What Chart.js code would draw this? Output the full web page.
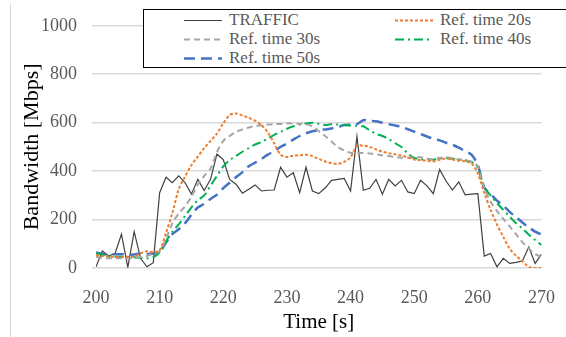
<!DOCTYPE html>
<html>
<head>
<meta charset="utf-8">
<script src="https://cdn.jsdelivr.net/npm/chart.js@4.4.1/dist/chart.umd.min.js"></script>
<style>
  html, body { margin: 0; padding: 0; background: #fff; overflow: hidden; }
  #wrap { position: relative; width: 566px; height: 337px; }
  #leftline { position: absolute; left: 10px; top: 3px; width: 1px; height: 334px; background: #d9d9d9; }
  #legend {
    position: absolute; left: 143px; top: 9px; width: 440px; height: 57px;
    border: 1.5px solid #000; background: #fff;
    font-family: "Liberation Serif", Tinos, "Times New Roman", "DejaVu Serif", serif; font-size: 17px; color: #595959;
  }
  .item { position: absolute; white-space: nowrap; line-height: 19px; }
  .item svg { position: absolute; left: -45px; top: 9px; }
</style>
</head>
<body>
<div id="wrap">
  <canvas id="myChart" width="566" height="337"></canvas>
  <div id="leftline"></div>
  <div id="legend"></div>
</div>
<script>
// data (1 s steps, 200..270)
var seconds = [];
for (var s = 200; s <= 270; s++) seconds.push(s);

var traffic = [5, 70, 50, 60, 140, 3, 150, 40, 5, 22,
  311, 375, 352, 380, 352, 305, 366, 320, 366, 470,
  448, 366, 346, 309, 325, 343, 318, 321, 322, 416,
  375, 393, 311, 416, 318, 307, 330, 362, 366, 370,
  318, 543, 321, 329, 366, 305, 366, 339, 362, 314,
  307, 362, 339, 307, 407, 359, 322, 356, 302, 305,
  307, 49, 60, 5, 40, 19, 23, 29, 87, 19, 57];

var ref20 = [53, 50, 48, 46, 46, 46, 48, 60, 69, 65,
  73, 145, 227, 325, 378, 425, 460, 495, 525, 555,
  597, 631, 638, 630, 620, 608, 590, 560, 515, 468,
  458, 464, 465, 468, 462, 450, 440, 433, 430, 438,
  457, 505, 505, 500, 490, 480, 474, 470, 464, 457,
  448, 445, 443, 440, 447, 452, 448, 443, 440, 432,
  390, 311, 240, 180, 128, 80, 50, 28, 5, 0, 0];

var ref30 = [45, 42, 40, 40, 40, 40, 42, 45, 50, 60,
  70, 120, 185, 225, 255, 295, 345, 380, 410, 478,
  525, 545, 562, 572, 580, 586, 589, 592, 594, 595,
  597, 597, 596, 594, 585, 565, 545, 522, 500, 485,
  476, 475, 475, 473, 470, 465, 462, 458, 455, 455,
  456, 457, 452, 448, 455, 457, 453, 448, 445, 438,
  420, 330, 275, 235, 203, 172, 140, 107, 80, 58, 45];

var ref40 = [61, 55, 48, 46, 46, 45, 44, 42, 40, 45,
  65, 110, 150, 180, 215, 250, 280, 300, 340, 380,
  420, 445, 463, 480, 495, 510, 520, 535, 550, 562,
  575, 585, 592, 597, 600, 595, 590, 594, 592, 590,
  588, 587, 585, 568, 554, 545, 532, 515, 500, 472,
  455, 448, 450, 447, 452, 454, 451, 448, 445, 438,
  415, 332, 300, 268, 240, 212, 185, 163, 138, 115, 95];

var ref50 = [64, 58, 57, 57, 57, 55, 56, 60, 58, 60,
  67, 105, 140, 160, 185, 220, 250, 265, 285, 303,
  330, 352, 375, 395, 420, 435, 450, 468, 483, 500,
  514, 530, 545, 556, 565, 568, 572, 576, 582, 590,
  592, 594, 610, 608, 606, 600, 594, 588, 583, 573,
  563, 553, 543, 533, 527, 517, 509, 497, 482, 468,
  425, 332, 305, 278, 257, 232, 210, 188, 168, 150, 138];

var seriesNames = ["TRAFFIC", "Ref. time 20s", "Ref. time 30s", "Ref. time 40s", "Ref. time 50s"];
var seriesData = [traffic, ref20, ref30, ref40, ref50];
var seriesColors = ["#404040", "#ed7d31", "#a5a5a5", "#00b050", "#4472c4"];
var seriesWidths = [1.2, 2, 2, 2, 2.5];
var seriesDash = [[], [3, 2], [6, 4], [9, 4, 2, 4], [11, 6]];

var yTicks = [0, 200, 400, 600, 800, 1000];
var xTicks = [200, 210, 220, 230, 240, 250, 260, 270];

var serifFont = '"Liberation Serif", Tinos, "Times New Roman", "DejaVu Serif", serif';

function createChart() {
  var datasets = [];
  for (var i = 0; i < seriesNames.length; i++) {
    var pts = [];
    for (var j = 0; j < seconds.length; j++) {
      pts.push({ x: seconds[j], y: seriesData[i][j] });
    }
    datasets.push({
      label: seriesNames[i],
      data: pts,
      borderColor: seriesColors[i],
      borderWidth: seriesWidths[i],
      borderDash: seriesDash[i],
      pointRadius: 0,
      tension: i == 0 ? 0 : 0.3,
      fill: false,
      order: i == 0 ? 10 : i
    });
  }

  new Chart("myChart", {
    type: "line",
    data: { datasets: datasets },
    options: {
      responsive: false,
      animation: false,
      layout: { padding: { left: 0, right: 23, top: 23, bottom: 0 } },
      plugins: { legend: { display: false }, tooltip: { enabled: false } },
      scales: {
        x: {
          type: "linear",
          min: 200,
          max: 270,
          afterBuildTicks: function(scale) {
            scale.ticks = xTicks.map(function(v) { return { value: v }; });
          },
          afterFit: function(scale) { scale.height = 69; },
          grid: { display: false },
          border: { display: false },
          ticks: {
            padding: 11,
            color: "#595959",
            maxRotation: 0,
            callback: function(v) { return String(v); },
            font: { family: serifFont, size: 18 }
          },
          title: {
            display: true,
            text: "Time [s]",
            color: "#000",
            padding: { top: 0, bottom: 2 },
            font: { family: serifFont, size: 21 }
          }
        },
        y: {
          min: 0,
          max: 1000,
          afterBuildTicks: function(scale) {
            scale.ticks = yTicks.map(function(v) { return { value: v }; });
          },
          afterFit: function(scale) { scale.width = 96; },
          grid: { color: "#d9d9d9", lineWidth: 1.5, drawTicks: true, tickLength: 4 },
          border: { display: false },
          ticks: {
            padding: 15,
            color: "#595959",
            callback: function(v) { return String(v); },
            font: { family: serifFont, size: 18 }
          },
          title: {
            display: true,
            text: "Bandwidth [Mbps]",
            color: "#000",
            padding: { top: 19, bottom: 0 },
            font: { family: serifFont, size: 22 }
          }
        }
      }
    }
  });
}

function buildLegend() {
  var box = document.getElementById("legend");
  // two columns, filled row by row like the original
  var colX = [85, 296];
  for (var i = 0; i < seriesNames.length; i++) {
    var col = i % 2;
    var row = Math.floor(i / 2);
    var item = document.createElement("div");
    item.className = "item";
    item.style.left = colX[col] + "px";
    item.style.top = (row * 19) + "px";
    var dash = seriesDash[i].length ? seriesDash[i].join(",") : "none";
    item.innerHTML =
      '<svg width="40" height="3"><line x1="0" y1="1.5" x2="38" y2="1.5" stroke="' + seriesColors[i] +
      '" stroke-width="' + seriesWidths[i] + '" stroke-dasharray="' + dash + '"/></svg>' +
      seriesNames[i];
    box.appendChild(item);
  }
}

createChart();
buildLegend();
</script>
</body>
</html>
